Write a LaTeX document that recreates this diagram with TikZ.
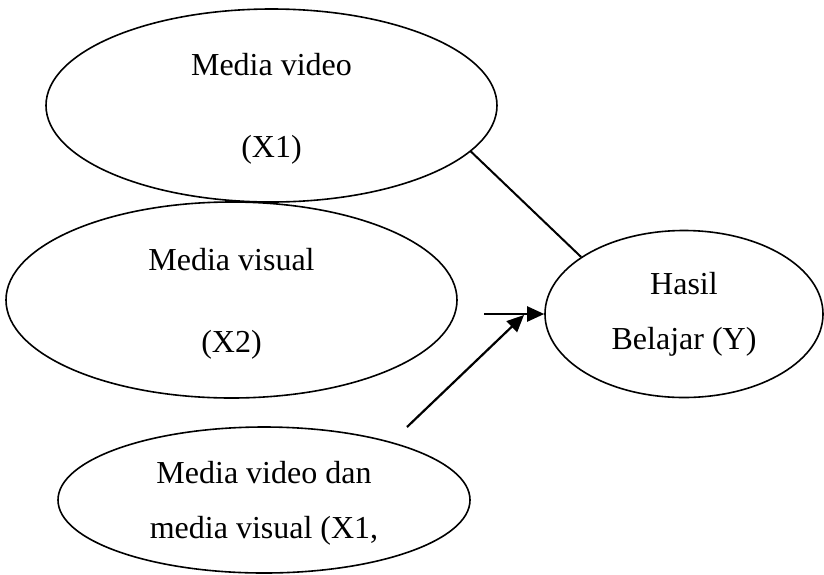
\documentclass[tikz,border=0pt]{standalone}
\usepackage{fontspec}
\setmainfont{Liberation Serif}
\usepackage{tikz}
\usetikzlibrary{shapes.geometric, arrows.meta, positioning}

\begin{document}
\begin{tikzpicture}[
    x=0.5pt, y=-0.5pt,
    var/.style={ellipse, draw, line width=0.8pt, inner sep=0pt, align=center, text depth=0pt, font=\fontsize{16}{41}\selectfont},
    varclose/.style={ellipse, draw, line width=0.8pt, inner sep=0pt, align=center, font=\fontsize{16}{27.5}\selectfont},
    link/.style={line width=1pt},
    arrow/.style={line width=1.1pt, -{Triangle[length=8.5pt, width=7.5pt]}}
]
    \useasboundingbox (0,0) rectangle (824,574);

    % Variables
    \node[var, minimum width=225.5pt, minimum height=96.5pt] (video) at (271.5, 105.5) {Media video\\(X1)};
    \node[var, minimum width=225.5pt, minimum height=98pt] (visual) at (231.5, 300) {Media visual\\(X2)};
    \node[varclose, text depth=0pt, minimum width=206pt, minimum height=73pt] (both) at (264, 500) {Media video dan\\media visual (X1,};

    % Outcome
    \node[varclose, minimum width=139pt, minimum height=83.5pt] (hasil) at (684, 314) {Hasil\\Belajar (Y)};

    % Free ends
    \coordinate (x2start) at (484, 314);
    \coordinate (x3start) at (407, 427);
    \coordinate (x3end) at (524, 315);

    % Connectors
    \draw[link] (video.-13) -- (hasil.151.5);
    \draw[arrow] (x2start) -- (hasil.west);
    \draw[arrow] (x3start) -- (x3end);

\end{tikzpicture}
\end{document}
